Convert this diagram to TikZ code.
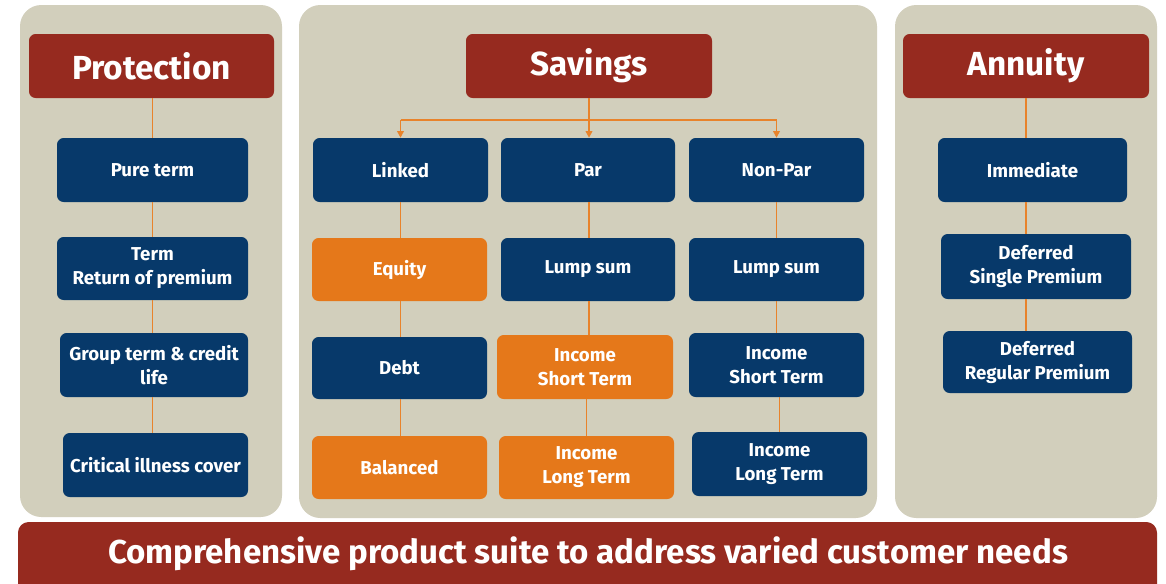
\documentclass[tikz,border=0pt]{standalone}
\usepackage{fontspec}
\setmainfont{Fira Sans}
\usetikzlibrary{arrows.meta}
\definecolor{panelbg}{HTML}{D2CFBC}
\definecolor{titlered}{HTML}{962A1F}
\definecolor{navyc}{HTML}{07396A}
\definecolor{boxorange}{HTML}{E5781A}
\definecolor{linkcol}{HTML}{E8832B}
\begin{document}
\begin{tikzpicture}[x=0.75pt,y=-0.75pt,
  panel/.style={fill=panelbg, rounded corners=16pt},
  titlebox/.style={fill=titlered, rounded corners=5pt, text=white, inner sep=0pt,
    font=\fontsize{25}{30}\selectfont\bfseries},
  item/.style={rounded corners=5pt, text=white, align=center, inner sep=0pt,
    font=\fontsize{14}{18}\selectfont\bfseries},
  navybox/.style={item, fill=navyc},
  orangebox/.style={item, fill=boxorange},
  sz/.style n args={2}{minimum width=#1*0.75pt, minimum height=#2*0.75pt},
  link/.style={draw=linkcol, line width=1.1pt},
  arr/.style={link, -{Triangle[width=5pt,length=5pt]}},
  bannertext/.style={text=white, font=\fontsize{24.8}{30}\selectfont\bfseries}
]
\useasboundingbox (0,0) rectangle (1166,583);
\clip (0,0) rectangle (1166,583);
\fill[white] (0,0) rectangle (1166,583);

% panels
\fill[panel] (20,5) rectangle (282,517);
\fill[panel] (299,5) rectangle (877,518);
\fill[panel] (895,5) rectangle (1157,518);

% banner
\fill[titlered, rounded corners=8pt] (18,522) rectangle (1157,600);
\node[bannertext] (banner) at (588,553.5) {Comprehensive product suite to address varied customer needs};

% Protection
\node[titlebox, sz={245}{64}] (prot) at (151.5,66) {Protection};
\node[navybox, sz={191}{64}] (pure) at (152.5,170) {Pure term};
\node[navybox, sz={191}{63}] (trp) at (152.5,268.5) {Term\\Return of premium};
\node[navybox, sz={188}{64}] (grp) at (154,365) {Group term \& credit\\life};
\node[navybox, sz={185}{64}] (crit) at (155.5,465) {Critical illness cover};

\draw[link] (pure.north |- prot.south) -- (pure.north);
\draw[link] (pure.south) -- (pure.south |- trp.north);
\draw[link] (pure.south |- trp.south) -- (pure.south |- grp.north);
\draw[link] (pure.south |- grp.south) -- (pure.south |- crit.north);

% Savings
\node[titlebox, sz={246}{64}] (sav) at (589,66) {Savings};
\node[navybox, sz={175}{64}] (lnk) at (400.5,170) {Linked};
\node[navybox, sz={174}{64}] (par) at (588,170) {Par};
\node[navybox, sz={175}{64}] (npar) at (776.5,170) {Non-Par};

\node[orangebox, sz={175}{63}] (eq) at (399.5,269.5) {Equity};
\node[navybox, sz={175}{62}] (debt) at (399.5,368) {Debt};
\node[orangebox, sz={175}{63}] (bal) at (399.5,467.5) {Balanced};

\node[navybox, sz={174}{63}] (plump) at (588,269.5) {Lump sum};
\node[orangebox, sz={176}{64}] (pshort) at (585,367) {Income\\Short Term};
\node[orangebox, sz={175}{63}] (plong) at (586.5,467.5) {Income\\Long Term};

\node[navybox, sz={175}{63}] (nlump) at (776.5,269.5) {Lump sum};
\node[navybox, sz={175}{64}] (nshort) at (776.5,365) {Income\\Short Term};
\node[navybox, sz={175}{64}] (nlong) at (779.5,464) {Income\\Long Term};

\coordinate (hb) at (589,120);
\draw[arr] (sav.south) -- (sav.south |- par.north);
\draw[link] (lnk.north |- hb) -- (npar.north |- hb);
\draw[arr] (lnk.north |- hb) -- (lnk.north);
\draw[arr] (npar.north |- hb) -- (npar.north);

\draw[link] (lnk.south) -- (lnk.south |- eq.north);
\draw[link] (lnk.south |- eq.south) -- (lnk.south |- debt.north);
\draw[link] (lnk.south |- debt.south) -- (lnk.south |- bal.north);

\draw[link] (sav.south |- par.south) -- (sav.south |- plump.north);
\draw[link] (sav.south |- plump.south) -- (sav.south |- pshort.north);
\draw[link] (plong.north |- pshort.south) -- (plong.north);

\draw[link] (npar.south) -- (npar.south |- nlump.north);
\draw[link] (npar.south |- nlump.south) -- (npar.south |- nshort.north);
\draw[link] (nlong.north |- nshort.south) -- (nlong.north);

% Annuity
\node[titlebox, sz={246}{64}] (ann) at (1026,66) {Annuity};
\node[navybox, sz={189}{64}] (imm) at (1032.5,170) {Immediate};
\node[navybox, sz={190}{65}] (dsp) at (1036,266.5) {Deferred\\Single Premium};
\node[navybox, sz={189}{62}] (drp) at (1037.5,362) {Deferred\\Regular Premium};

\draw[link] (ann.south) -- (ann.south |- imm.north);
\draw[link] (ann.south |- imm.south) -- (ann.south |- dsp.north);
\draw[link] (ann.south |- dsp.south) -- (ann.south |- drp.north);
\end{tikzpicture}
\end{document}
